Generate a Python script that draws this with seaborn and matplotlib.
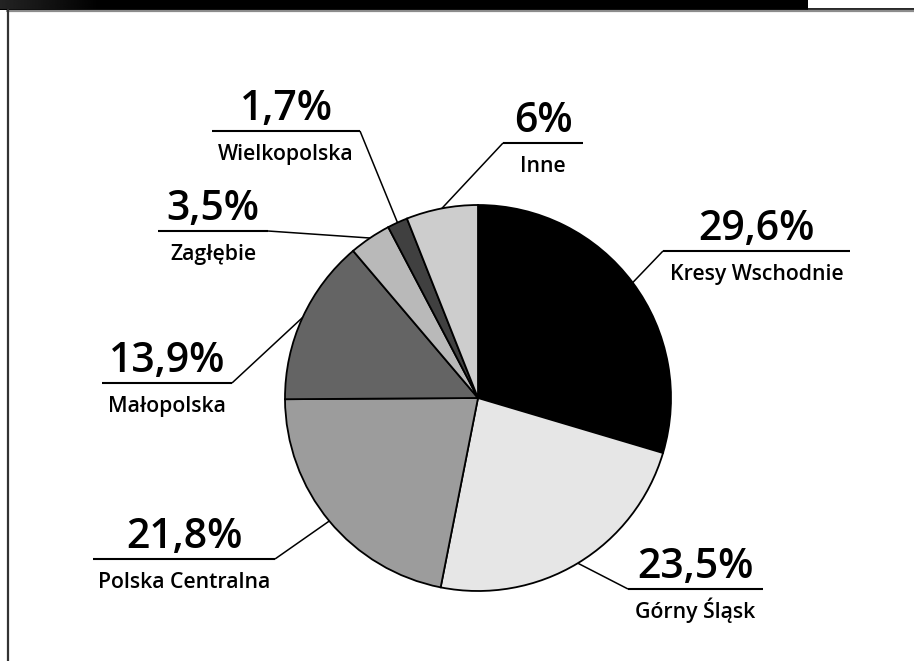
import numpy as np
import matplotlib
matplotlib.use("Agg")
import matplotlib.pyplot as plt
import seaborn as sns
from matplotlib.patches import Rectangle
from matplotlib.lines import Line2D

# Shares of the population by region of origin
categories = ["Kresy Wschodnie", "Górny Śląsk", "Polska Centralna", "Małopolska",
              "Zagłębie", "Wielkopolska", "Inne"]
shares = [29.6, 23.5, 21.8, 13.9, 3.5, 1.7, 6.0]
pct_labels = ["29,6%", "23,5%", "21,8%", "13,9%", "3,5%", "1,7%", "6%"]
colors = ["#000000", "#e6e6e6", "#9c9c9c", "#646464", "#b9b9b9", "#404040", "#cdcdcd"]

# Callout placement: underline start x, end x, y (pixels from top), side the leader joins
callout_x0 = [663, 628, 93, 102, 158, 212, 503]
callout_x1 = [850, 763, 275, 232, 268, 360, 583]
callout_y = [251, 589, 559, 383, 231, 131, 143]
callout_side = ["left", "left", "right", "right", "right", "right", "left"]

W, H = 914, 661
sns.set_style("white")
plt.rcParams["font.family"] = ["Open Sans", "DejaVu Sans"]

fig = plt.figure(figsize=(W / 100, H / 100), dpi=100)
ax = fig.add_axes([0, 0, 1, 1])


def Y(y):
    return H - y


cx, cy, r = 478, 398, 193
wedges, _ = ax.pie(shares, colors=colors, startangle=90, counterclock=False,
                   center=(cx, Y(cy)), radius=r, frame=True,
                   wedgeprops=dict(edgecolor="black", linewidth=1.3))
ax.set_autoscale_on(False)
ax.set_xlim(0, W)
ax.set_ylim(0, H)
ax.set_aspect("equal")
ax.axis("off")

# Callouts: leader from the wedge's mid-angle to an underline with value and name
for w, name, pct, x0, x1, ly, side in zip(wedges, categories, pct_labels,
                                         callout_x0, callout_x1, callout_y, callout_side):
    mid = np.deg2rad((w.theta1 + w.theta2) / 2)
    px, py = cx + r * np.cos(mid), Y(cy) + r * np.sin(mid)
    jx = x0 if side == "left" else x1
    ax.plot([px, jx], [py, Y(ly)], color="black", lw=1.1, solid_capstyle="butt")
    ax.plot([x0, x1], [Y(ly), Y(ly)], color="black", lw=1.5, solid_capstyle="butt")
    xc = (x0 + x1) / 2
    ax.text(xc, Y(ly - 11), pct, ha="center", va="baseline",
            fontsize=29.5, fontweight="semibold", color="black")
    ax.text(xc, Y(ly + 29), name, ha="center", va="baseline",
            fontsize=15.3, fontweight="semibold", color="black")

# Header band and frame
ax.add_patch(Rectangle((0, Y(9.5)), 808, 9.5, color="black", lw=0, zorder=5))
grad = np.linspace(0.14, 0.0, 256).reshape(1, -1)
ax.imshow(grad, extent=(0, 100, Y(9.5), Y(0)), cmap="gray", vmin=0, vmax=1,
          aspect="auto", interpolation="bilinear", zorder=6)
ax.add_line(Line2D([808, W], [Y(8.8), Y(8.8)], color="black", lw=1.2, zorder=6))
ax.add_line(Line2D([7, W], [Y(10.5), Y(10.5)], color="#8c8c8c", lw=1.6, zorder=7))
ax.add_line(Line2D([7.5, 7.5], [Y(10), 0], color="#333333", lw=1.6, zorder=7))
ax.set_xlim(0, W)
ax.set_ylim(0, H)

fig.savefig("out.png", dpi=100, facecolor="white")
